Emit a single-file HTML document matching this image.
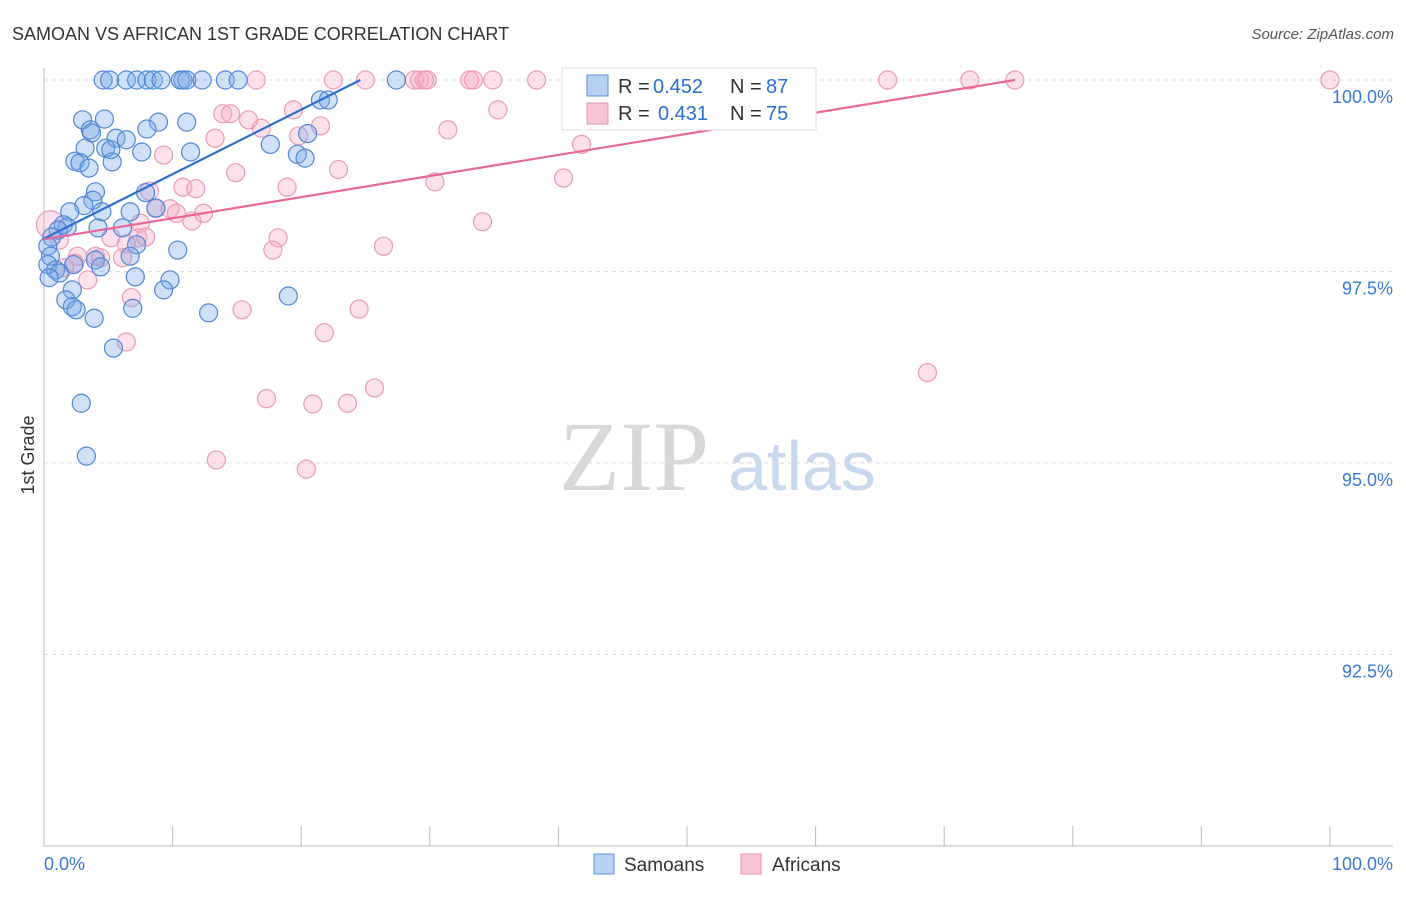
<!DOCTYPE html>
<html><head><meta charset="utf-8"><style>
body{margin:0;background:#fff;font-family:"Liberation Sans",sans-serif}
#c{position:relative;width:1406px;height:892px}
</style></head><body>
<div id="c">
<svg id="s" width="1406" height="892" xmlns="http://www.w3.org/2000/svg">
<text x="12" y="40" font-size="18" fill="#333">SAMOAN VS AFRICAN 1ST GRADE CORRELATION CHART</text>
<text x="1394" y="39" font-size="15" fill="#555" font-style="italic" text-anchor="end">Source: ZipAtlas.com</text>
<text x="634" y="490" font-size="100" fill="#d8d8d8" text-anchor="middle" font-family="Liberation Serif, serif">ZIP</text>
<text x="802" y="490" font-size="70" fill="#c8d8ef" text-anchor="middle">atlas</text>
<text transform="translate(34,455) rotate(-90)" font-size="18" fill="#333" text-anchor="middle">1st Grade</text>
<g id="grid"></g><g id="pts"></g><g id="lines"></g>
<g>
<rect x="562" y="68" width="254" height="62" fill="#fff" stroke="#ddd"/>
<rect x="587" y="75" width="21" height="21" fill="#b8d0f2" stroke="#5a8fd8"/>
<rect x="587" y="103" width="21" height="21" fill="#f9c4d4" stroke="#e890b0"/>
<g font-size="20" fill="#333">
<text x="618" y="93">R =</text><text x="653" y="93" fill="#2a6fd6">0.452</text><text x="730" y="93">N =</text><text x="766" y="93" fill="#2a6fd6">87</text></g>
<g font-size="20" fill="#333">
<text x="618" y="120">R =</text><text x="658" y="120" fill="#2a6fd6">0.431</text><text x="730" y="120">N =</text><text x="766" y="120" fill="#2a6fd6">75</text></g>
</g>
<g>
<rect x="594" y="854" width="20" height="20" fill="#b8d0f2" stroke="#5a8fd8"/>
<text x="624" y="871" font-size="19" fill="#333">Samoans</text>
<rect x="741" y="854" width="20" height="20" fill="#f9c4d4" stroke="#e890b0"/>
<text x="772" y="871" font-size="19" fill="#333">Africans</text>
</g>
</svg></div>
<script>
const yTicks=[100,97.5,95,92.5];
const yTickLabels=["100.0%","97.5%","95.0%","92.5%"];
const xTickLabels=["0.0%","100.0%"];
const samoanX=[4.6,5.1,6.4,7.2,8.0,8.5,9.1,10.6,10.8,11.1,12.3,14.1,15.1,27.4,21.5,22.1,3.0,4.7,8.9,11.1,3.6,3.7,8.0,5.6,6.4,3.2,4.8,5.2,7.6,11.4,17.6,19.7,20.3,20.5,2.4,2.8,5.3,3.5,4.0,7.9,3.8,3.1,2.0,4.5,6.7,8.7,1.5,1.8,4.2,6.1,1.1,0.6,7.2,10.4,0.3,0.5,6.7,4.0,4.4,2.3,0.3,0.9,1.2,0.4,7.1,9.8,9.3,2.2,1.7,2.2,2.5,6.9,19.0,12.8,3.9,5.4,2.9,3.3];
const samoanY=[100,100,100,100,100,100,100,100,100,100,100,100,100,100,99.74,99.74,99.48,99.49,99.45,99.45,99.35,99.31,99.36,99.24,99.22,99.11,99.11,99.09,99.06,99.06,99.16,99.03,98.98,99.30,98.94,98.92,98.93,98.85,98.54,98.53,98.43,98.36,98.28,98.28,98.28,98.33,98.11,98.08,98.07,98.07,98.04,97.95,97.85,97.78,97.83,97.70,97.70,97.65,97.56,97.59,97.59,97.52,97.48,97.42,97.43,97.39,97.26,97.26,97.13,97.04,97.00,97.02,97.18,96.96,96.89,96.50,95.78,95.09];
const africanX=[16.5,22.5,25.0,28.8,29.2,29.6,29.8,33.1,33.4,34.9,38.3,42.5,52.4,59.2,65.6,72.0,75.5,100,13.9,14.5,15.9,19.4,16.9,21.5,19.8,13.3,31.4,35.3,41.8,9.3,22.9,14.9,18.9,30.4,40.4,10.8,11.8,8.2,8.7,9.8,10.3,12.4,11.5,34.1,7.5,0.5,1.2,5.2,7.3,7.9,6.4,18.2,26.4,17.8,4.0,2.6,2.4,6.1,3.4,1.6,6.8,15.4,24.5,21.8,6.4,68.7,25.7,17.3,20.9,23.6,13.4,20.4,4.4];
const africanY=[100,100,100,100,100,100,100,100,100,100,100,100,100,100,100,100,100,100,99.56,99.56,99.48,99.61,99.37,99.40,99.27,99.24,99.35,99.61,99.16,99.02,98.83,98.79,98.60,98.67,98.72,98.60,98.58,98.55,98.32,98.32,98.26,98.26,98.16,98.15,98.13,98.11,97.91,97.94,97.94,97.95,97.86,97.94,97.83,97.78,97.70,97.70,97.61,97.68,97.39,97.55,97.16,97.00,97.01,96.70,96.58,96.18,95.98,95.84,95.77,95.78,95.04,94.92,97.68];
const samoanTrendX=[0,24.6];const samoanTrendY=[97.93,100];
const africanTrendX=[0,75.5];const africanTrendY=[97.92,100];
const X0=44,X1=1330,Y100=80,PX25=191.5;
const sx=v=>X0+(X1-X0)*v/100;
const sy=v=>Y100+(100-v)/2.5*PX25;
const NS="http://www.w3.org/2000/svg";
function mk(t,a,p){const e=document.createElementNS(NS,t);for(const k in a)e.setAttribute(k,a[k]);p.appendChild(e);return e;}
const g=document.getElementById('grid');
let e=mk('line',{x1:44,y1:68,x2:44,y2:846,stroke:'#bbb'},g);


e=mk('line',{x1:44,y1:846,x2:1393,y2:846,stroke:'#bbb'},g);


for(let i=0;i<=10;i++){const x=sx(i*10);e=mk('line',{x1:x,y1:826,x2:x,y2:846,stroke:'#bbb'},g);

}
yTicks.forEach((v,i)=>{const y=sy(v);
e=mk('line',{x1:44,y1:y,x2:1393,y2:y,stroke:'#ddd','stroke-dasharray':'4,4'},g);


e=mk('text',{x:1393,y:y+23,'font-size':18,fill:'#3a78d8','text-anchor':'end'},g);e.textContent=yTickLabels[i];

});
e=mk('text',{x:44,y:870,'font-size':18,fill:'#3a78d8'},g);e.textContent=xTickLabels[0];


e=mk('text',{x:1393,y:870,'font-size':18,fill:'#3a78d8','text-anchor':'end'},g);e.textContent=xTickLabels[1];


const P=document.getElementById('pts');
africanX.forEach((x,i)=>{e=mk('circle',{cx:sx(x),cy:sy(africanY[i]),r:i==45?14:9,fill:'rgba(246,170,196,0.35)',stroke:'#eb9ab8','stroke-width':1.2},P);

});
samoanX.forEach((x,i)=>{e=mk('circle',{cx:sx(x),cy:sy(samoanY[i]),r:9,fill:'rgba(120,165,230,0.35)',stroke:'#4f88d8','stroke-width':1.2},P);

});
const L=document.getElementById('lines');
e=mk('line',{x1:sx(samoanTrendX[0]),y1:sy(samoanTrendY[0]),x2:sx(samoanTrendX[1]),y2:sy(samoanTrendY[1]),stroke:'#2a6fd6','stroke-width':2.2},L);


e=mk('line',{x1:sx(africanTrendX[0]),y1:sy(africanTrendY[0]),x2:sx(africanTrendX[1]),y2:sy(africanTrendY[1]),stroke:'#e8679a','stroke-width':2.2},L);


</script>
</body></html>
